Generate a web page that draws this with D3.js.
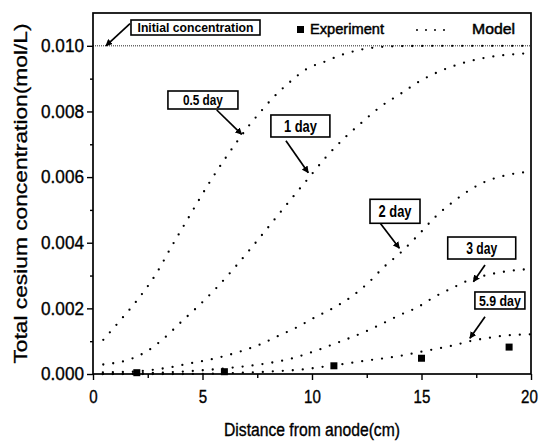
<!DOCTYPE html>
<html lang="en">
	<head>
		<meta charset="utf-8">
		<title>Total cesium concentration vs distance from anode</title>
		<script type="text/javascript" src="https://cdnjs.cloudflare.com/ajax/libs/d3/7.8.5/d3.min.js"></script>
		<style type="text/css">
			body { margin:0; background:#ffffff; }
			text { font-family:"Liberation Sans", Arial, sans-serif; fill:#000000; }
		</style>
	</head>
	<body>
		<script type="text/javascript">
			//Width and height
			var w = 541;
			var h = 441;

			// model curves, concentration in mol/L
			var x05 = [0.47, 1.2, 1.96, 2.88, 3.6, 4.28, 5.37, 6.61, 7.1, 7.73, 8.14, 8.96, 9.77, 10.59, 11.38, 12.2, 12.9, 14, 16, 20];
			var c05 = [0.00104, 0.0016, 0.0022, 0.00305, 0.0039, 0.00467, 0.00589, 0.00711, 0.00755, 0.00805, 0.00836, 0.00888, 0.0093, 0.00952, 0.00973, 0.00988, 0.00995, 0.00999, 0.0100, 0.0100];

			var x1 = [0.47, 1.69, 2.48, 3.26, 4.05, 4.86, 5.66, 6.44, 7.25, 8.0, 8.74, 9.88, 10.67, 11.48, 12.27, 13.1, 14.07, 14.94, 15.89, 16.76, 17.71, 18.66, 19.6, 20];
			var c1 = [0.00029, 0.00045, 0.0007, 0.0011, 0.0016, 0.0021, 0.00264, 0.00322, 0.00386, 0.00447, 0.00508, 0.006, 0.00663, 0.00719, 0.00766, 0.00813, 0.00855, 0.00893, 0.00924, 0.00945, 0.00961, 0.00971, 0.00976, 0.00978];

			var x2 = [0.45, 2, 2.88, 3.67, 4.47, 5.27, 6.03, 6.79, 7.66, 8.46, 9.3, 10.06, 10.94, 11.81, 12.57, 13.3, 14.02, 14.86, 15.62, 16.45, 17.21, 17.98, 18.77, 19.62, 20];
			var c2 = [0.00005, 0.00008, 0.00014, 0.00022, 0.00033, 0.00043, 0.00055, 0.0007, 0.00091, 0.00116, 0.00142, 0.0017, 0.002, 0.00236, 0.00278, 0.00327, 0.00368, 0.00424, 0.00478, 0.00525, 0.00561, 0.00588, 0.00604, 0.00614, 0.00616];

			var x3 = [0.45, 2, 4, 6, 8, 9, 9.6, 10.06, 10.87, 11.7, 12.5, 13.26, 14.02, 14.81, 15.62, 16.38, 17.21, 18.02, 18.81, 19.6, 20];
			var c3 = [0.0, 0.00002, 0.00007, 0.00017, 0.00033, 0.00046, 0.00058, 0.00068, 0.00088, 0.00109, 0.00131, 0.00155, 0.0018, 0.00203, 0.00236, 0.00261, 0.00287, 0.00302, 0.00312, 0.00318, 0.0032];

			var x59 = [0.45, 4, 6, 8.46, 9.6, 10.5, 11.7, 12.5, 13.3, 14.09, 14.85, 15.62, 16.38, 17.21, 18.05, 18.81, 19.6, 20];
			var c59 = [0.0, 0.0, 0.00002, 0.00009, 0.00014, 0.00022, 0.00033, 0.00041, 0.00048, 0.00056, 0.00066, 0.00076, 0.00086, 0.001, 0.0011, 0.00117, 0.0012, 0.00121];

			// experiment points
			var expX = [2, 6, 11, 15, 19];
			var expC = [0.00004, 0.00007, 0.00025, 0.00048, 0.00082];

			var initialC = 0.010;

			// tick labels
			var xTicks = [0, 5, 10, 15, 20];
			var xMinor = [2.5, 7.5, 12.5, 17.5];
			var yTicks = [0, 0.002, 0.004, 0.006, 0.008, 0.010];
			var yMinor = [0.001, 0.003, 0.005, 0.007, 0.009];

			var curveNames = ["0.5 day", "1 day", "2 day", "3 day", "5.9 day"];
			var curveXs = [x05, x1, x2, x3, x59];
			var curveCs = [c05, c1, c2, c3, c59];

			//Create SVG element
			var svg = d3.select("body")
						.append("svg")
						.attr("width", w)
						.attr("height", h);

			svg.append("rect").attr("width", w).attr("height", h).attr("fill", "#ffffff");

			var pLeft = 93, pRight = 531, pTop = 13, pBottom = 374;

			var x = d3.scaleLinear().domain([0, 20]).range([pLeft, pRight]);
			var y = d3.scaleLinear().domain([0, 0.011]).range([pBottom, pTop]);

			//curves
			var line = d3.line()
				.x(function(d) { return x(d[0]); })
				.y(function(d) { return y(d[1]); })
				.curve(d3.curveMonotoneX);

			curveXs.forEach(function(xs, k) {
				var pts = xs.map(function(v, i) { return [v, curveCs[k][i]]; });
				svg.append("path")
				   .attr("d", line(pts))
				   .attr("fill", "none")
				   .attr("stroke", "#000")
				   .attr("stroke-width", 2.3)
				   .attr("stroke-linecap", "round")
				   .attr("stroke-dasharray", "0,10");
			});

			//initial concentration line
			svg.append("line")
			   .attr("x1", x(0)).attr("x2", x(20))
			   .attr("y1", y(initialC)).attr("y2", y(initialC))
			   .attr("stroke", "#222")
			   .attr("stroke-width", 1)
			   .attr("stroke-dasharray", "1,1");

			//experiment squares
			svg.selectAll("rect.exp")
			   .data(expX)
			   .enter()
			   .append("rect")
			   .attr("class", "exp")
			   .attr("x", function(d) { return x(d) - 3.5; })
			   .attr("y", function(d, i) { return y(expC[i]) - 3.5; })
			   .attr("width", 7)
			   .attr("height", 7)
			   .attr("fill", "#000");

			//axes
			var yAxis = svg.append("g")
				.attr("transform", "translate(" + pLeft + ",0)")
				.call(d3.axisLeft(y).tickValues(yTicks).tickSize(6).tickFormat(d3.format(".3f")));
			svg.append("g")
				.attr("transform", "translate(" + pLeft + ",0)")
				.call(d3.axisLeft(y).tickValues(yMinor).tickSize(3).tickFormat(""));
			var xAxis = svg.append("g")
				.attr("transform", "translate(0," + pBottom + ")")
				.call(d3.axisBottom(x).tickValues(xTicks).tickSize(6).tickPadding(10).tickFormat(d3.format("d")));
			svg.append("g")
				.attr("transform", "translate(0," + pBottom + ")")
				.call(d3.axisBottom(x).tickValues(xMinor).tickSize(4).tickFormat(""));

			svg.selectAll(".domain").remove();
			svg.selectAll(".tick line").attr("stroke", "#000").attr("stroke-width", 1.4);

			yAxis.selectAll("text")
				.attr("font-size", 18)
				.attr("font-family", "Liberation Sans")
				.attr("stroke", "#000")
				.attr("stroke-width", 0.35)
				.attr("textLength", 43)
				.attr("lengthAdjust", "spacingAndGlyphs");
			xAxis.selectAll("text")
				.attr("font-size", 18)
				.attr("font-family", "Liberation Sans")
				.attr("stroke", "#000")
				.attr("stroke-width", 0.35)
				.attr("dx", function(d) { return d === 20 ? -2 : 0; })
				.attr("textLength", function(d) { return String(d).length * 8.4; })
				.attr("lengthAdjust", "spacingAndGlyphs");

			//frame
			svg.append("rect")
			   .attr("x", pLeft).attr("y", pTop)
			   .attr("width", pRight - pLeft).attr("height", pBottom - pTop)
			   .attr("fill", "none")
			   .attr("stroke", "#000")
			   .attr("stroke-width", 1.7);

			//axis titles
			svg.append("text")
			   .attr("x", (pLeft + pRight) / 2)
			   .attr("y", 436)
			   .attr("text-anchor", "middle")
			   .attr("font-size", 18)
			   .attr("stroke", "#000")
			   .attr("stroke-width", 0.35)
			   .attr("textLength", 176)
			   .attr("lengthAdjust", "spacingAndGlyphs")
			   .text("Distance from anode(cm)");

			svg.append("text")
			   .attr("transform", "translate(27," + (pTop + pBottom) / 2 + ") rotate(-90)")
			   .attr("text-anchor", "middle")
			   .attr("font-size", 19)
			   .attr("stroke", "#000")
			   .attr("stroke-width", 0.3)
			   .attr("textLength", 340)
			   .attr("lengthAdjust", "spacingAndGlyphs")
			   .text("Total cesium concentration(mol/L)");

			//arrow head
			svg.append("defs").append("marker")
			   .attr("id", "arr")
			   .attr("viewBox", "0 0 10 10")
			   .attr("refX", 9).attr("refY", 5)
			   .attr("markerWidth", 7).attr("markerHeight", 7)
			   .attr("markerUnits", "userSpaceOnUse")
			   .attr("orient", "auto")
			   .append("path")
			   .attr("d", "M0,0 L10,5 L0,10 z")
			   .attr("fill", "#000");

			//annotation boxes: label, box centre (data), box size, arrow tail and tip (data)
			var notes = [
				{ t: "Initial concentration", cx: 4.68, cy: 0.010558, bw: 129, bh: 15, tl: 116, fs: 13, ax: 1.69, ay: 0.01068, bx: 0.59, by: 0.0100 },
				{ t: "0.5 day", cx: 5.02, cy: 0.008349, bw: 70, bh: 18, tl: 40, fs: 15, ax: 5.65, ay: 0.008044, bx: 6.79, by: 0.007304 },
				{ t: "1 day", cx: 9.47, cy: 0.007557, bw: 59, bh: 22, tl: 33, fs: 16, ax: 8.81, ay: 0.007109, bx: 9.83, by: 0.006134 },
				{ t: "2 day", cx: 13.79, cy: 0.004958, bw: 50, bh: 24, tl: 33, fs: 16, ax: 13.1, ay: 0.00461, bx: 13.99, by: 0.00383 },
				{ t: "3 day", cx: 17.75, cy: 0.003839, bw: 68, bh: 22, tl: 31, fs: 16, ax: 17.9, ay: 0.003321, bx: 17.37, by: 0.002812 },
				{ t: "5.9 day", cx: 18.58, cy: 0.00224, bw: 50, bh: 17, tl: 42, fs: 15, ax: 17.9, ay: 0.001746, bx: 17.21, by: 0.001088 }
			];

			notes.forEach(function(n) {
				svg.append("line")
				   .attr("x1", x(n.ax)).attr("y1", y(n.ay))
				   .attr("x2", x(n.bx)).attr("y2", y(n.by))
				   .attr("stroke", "#000")
				   .attr("stroke-width", 1.7)
				   .attr("marker-end", "url(#arr)");
				svg.append("rect")
				   .attr("x", x(n.cx) - n.bw / 2)
				   .attr("y", y(n.cy) - n.bh / 2)
				   .attr("width", n.bw)
				   .attr("height", n.bh)
				   .attr("fill", "#fff")
				   .attr("stroke", "#000")
				   .attr("stroke-width", 1.6);
				svg.append("text")
				   .attr("x", x(n.cx))
				   .attr("y", y(n.cy) + n.fs * 0.36)
				   .attr("text-anchor", "middle")
				   .attr("font-size", n.fs)
				   .attr("font-weight", "bold")
				   .attr("textLength", n.tl)
				   .attr("lengthAdjust", "spacingAndGlyphs")
				   .text(n.t);
			});

			//legend
			svg.append("rect")
			   .attr("x", 297).attr("y", 26)
			   .attr("width", 7).attr("height", 7)
			   .attr("fill", "#000");
			svg.append("text")
			   .attr("x", 310).attr("y", 34)
			   .attr("font-size", 14)
			   .attr("stroke", "#000")
			   .attr("stroke-width", 0.45)
			   .attr("textLength", 74)
			   .attr("lengthAdjust", "spacingAndGlyphs")
			   .text("Experiment");
			svg.append("line")
			   .attr("x1", 417).attr("x2", 446)
			   .attr("y1", 30).attr("y2", 30)
			   .attr("stroke", "#000")
			   .attr("stroke-width", 2)
			   .attr("stroke-linecap", "round")
			   .attr("stroke-dasharray", "0,9");
			svg.append("text")
			   .attr("x", 472).attr("y", 34)
			   .attr("font-size", 14)
			   .attr("stroke", "#000")
			   .attr("stroke-width", 0.45)
			   .attr("textLength", 43)
			   .attr("lengthAdjust", "spacingAndGlyphs")
			   .text("Model");
		</script>
	</body>
</html>
